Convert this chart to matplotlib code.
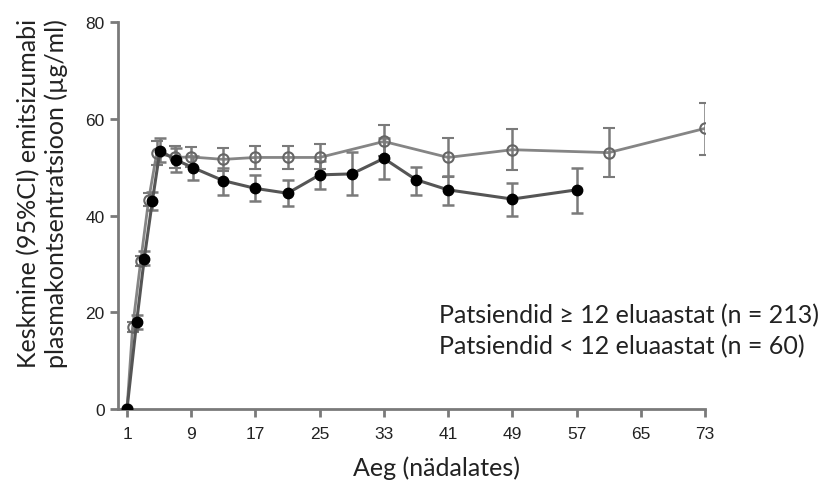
import matplotlib.pyplot as plt

# Weeks and mean concentrations (open markers)
weeks_open = [1, 1.7, 2.7, 3.7, 4.7, 7, 9, 13, 17, 21, 25, 33, 41, 49, 61, 73]
mean_open = [0, 16.9, 30.5, 43.3, 52.9, 52.0, 52.1, 51.6, 52.0, 52.0, 52.0, 55.3, 52.0, 53.6, 53.0, 58.0]
lo_open = [0, 16.0, 29.6, 42.0, 50.5, 49.8, 50.0, 49.3, 49.7, 49.6, 49.6, 52.2, 48.0, 49.4, 47.9, 52.5]
hi_open = [0, 18.0, 31.6, 44.6, 55.3, 54.3, 54.2, 53.9, 54.4, 54.3, 54.8, 58.7, 56.0, 57.9, 58.0, 63.2]

# Weeks and mean concentrations (filled markers)
weeks_fill = [1, 2.2, 3.15, 4.15, 5.1, 7.1, 9.2, 13, 17, 21, 25, 29, 33, 37, 41, 49, 57]
mean_fill = [0, 18.0, 31.1, 42.9, 53.4, 51.5, 49.9, 47.2, 45.6, 44.6, 48.4, 48.6, 51.8, 47.4, 45.3, 43.4, 45.3]
lo_fill = [0, 16.6, 29.8, 41.2, 51.0, 48.9, 47.4, 44.3, 42.9, 42.0, 45.5, 44.3, 47.5, 44.3, 42.1, 39.9, 40.5]
hi_fill = [0, 19.5, 32.6, 44.8, 56.1, 54.0, 52.4, 49.8, 48.4, 47.4, 51.3, 53.2, 56.0, 50.1, 48.2, 46.7, 49.9]

xticks = [1, 9, 17, 25, 33, 41, 49, 57, 65, 73]
yticks = [0, 20, 40, 60, 80]
legend_lines = ['Patsiendid \u2265 12 eluaastat (n = 213)',
                'Patsiendid < 12 eluaastat (n = 60)']

fig = plt.figure(figsize=(8.23, 4.85), dpi=100)
ax = fig.add_axes([0.1434, 0.1546, 0.7132, 0.798])

grey = '#7a7a7a'

# open series
err_o = [[m - l for m, l in zip(mean_open, lo_open)], [h - m for m, h in zip(mean_open, hi_open)]]
ax.errorbar(weeks_open, mean_open, yerr=err_o, fmt='o', color=grey, ecolor=grey,
            elinewidth=1.8, capsize=4.5, capthick=1.8, markersize=7.5, markerfacecolor='none',
            markeredgecolor='#666666', markeredgewidth=1.5, zorder=3)
ax.plot(weeks_open, mean_open, color='#858585', lw=2, zorder=2)

# filled series
err_f = [[m - l for m, l in zip(mean_fill, lo_fill)], [h - m for m, h in zip(mean_fill, hi_fill)]]
ax.errorbar(weeks_fill, mean_fill, yerr=err_f, fmt='none', ecolor=grey,
            elinewidth=1.8, capsize=4.5, capthick=1.8, zorder=3)
ax.plot(weeks_fill, mean_fill, color='#555555', lw=2.2, zorder=4)
ax.plot(weeks_fill, mean_fill, 'o', color='black', markersize=7.5, zorder=5)

ax.set_xlim(-0.12, 73)
ax.set_ylim(0, 80)
ax.set_xticks(xticks)
ax.set_yticks(yticks)

for s in ['top', 'right']:
    ax.spines[s].set_visible(False)
for s in ['left', 'bottom']:
    ax.spines[s].set_color(grey)
    ax.spines[s].set_linewidth(2)
ax.tick_params(direction='out', length=6, width=2, color=grey, labelcolor='#222222')
for lab in ax.get_xticklabels() + ax.get_yticklabels():
    lab.set_family(['Liberation Sans Narrow', 'Liberation Sans', 'DejaVu Sans'])
    lab.set_fontsize(12.5)
ax.tick_params(axis='x', pad=6)

lab_font = ['Lato', 'DejaVu Sans']
fs = 18
fig.text(0.53, 0.035, 'Aeg (nädalates)', ha='center', va='center', fontsize=fs,
         family=lab_font, color='#222222')
fig.text(0.052, 0.6, 'Keskmine (95%CI) emitsizumabi\nplasmakontsentratsioon (µg/ml)',
         ha='center', va='center', rotation=90, fontsize=fs, family=lab_font,
         color='#222222', linespacing=1.2)

fig.text(0.534, 0.349, legend_lines[0], ha='left', va='center', fontsize=fs,
         family=lab_font, color='#222222')
fig.text(0.534, 0.285, legend_lines[1], ha='left', va='center', fontsize=fs,
         family=lab_font, color='#222222')

fig.savefig('out.png', dpi=100)
